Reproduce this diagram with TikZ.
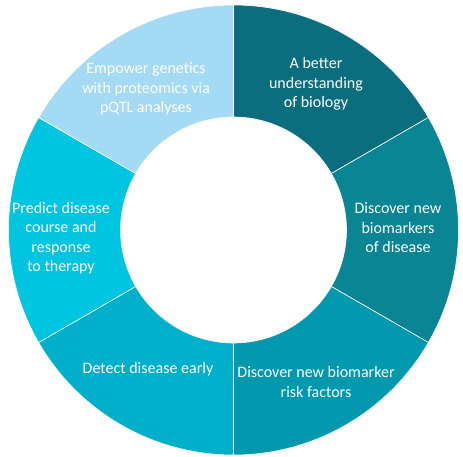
\documentclass[tikz,border=0pt]{standalone}
\usepackage{fontspec}
\setmainfont{Carlito}
\usepackage{xcolor}
\usetikzlibrary{positioning,calc}

\definecolor{segA}{HTML}{0B6E7F}
\definecolor{segB}{HTML}{0A8594}
\definecolor{segC}{HTML}{0299AE}
\definecolor{segD}{HTML}{00B0CA}
\definecolor{segE}{HTML}{00C5E0}
\definecolor{segF}{HTML}{A4DAF4}

\begin{document}
\begin{tikzpicture}[x=1pt, y=1pt, every node/.style={font=\fontsize{16}{19.5}\selectfont}]
  \tikzset{
    seg/.style={draw=white, line width=0.6pt},
    lbl/.style={text=white, align=center, inner sep=0pt}
  }
  \useasboundingbox (0,0) rectangle (463,456);
  \coordinate (ctr) at (233.5,226);

  % segments
  \foreach \a/\col in {90/segA, 30/segB, -30/segC, -90/segD, -150/segE, 150/segF} {
    \pgfmathsetmacro{\b}{\a-60}
    \filldraw[seg, fill=\col] ($(ctr)+(\a:225)$) arc[start angle=\a, end angle=\b, radius=225]
      -- ($(ctr)+(\b:113)$) arc[start angle=\b, end angle=\a, radius=113] -- cycle;
  }

  % labels
  \node[lbl] (bio) at (316,372) {A better\\understanding\\of biology};
  \node[lbl] (newbio) at (398,228) {Discover new\\biomarkers\\of disease};
  \node[lbl] (risk) at (316,74) {Discover new biomarker\\risk factors};
  \node[lbl] (early) at (148,87) {Detect disease early};
  \node[lbl] (predict) at (61,218) {Predict disease\\course and\\response\\to therapy};
  \node[lbl] (pqtl) at (146,367) {Empower genetics\\with proteomics via\\pQTL analyses};
\end{tikzpicture}
\end{document}
